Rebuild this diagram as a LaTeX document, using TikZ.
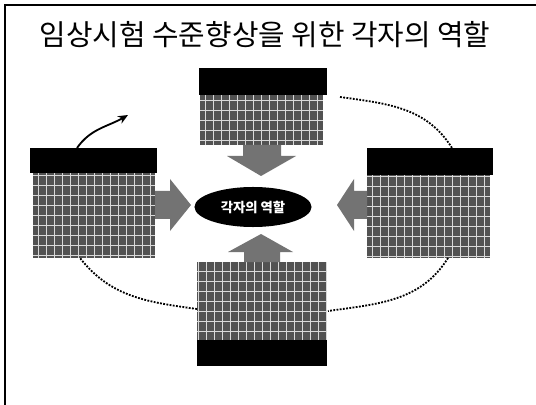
\documentclass[tikz,border=0pt]{standalone}
\usepackage{fontspec}
\newfontfamily\kr{Noto Sans CJK KR}
\usetikzlibrary{arrows.meta,shapes.geometric}

\tikzset{
  head/.style={fill=black, inner sep=0pt},
  body/.style={fill=black!68, inner sep=0pt,
    path picture={\draw[white!85!black, line width=0.6pt]
      (path picture bounding box.south west) grid[xstep=0.2cm, ystep=0.25cm]
      (path picture bounding box.north east);}},
  blockarrow/.style={fill=black!55},
  link/.style={densely dotted, line width=1.3pt},
}

\begin{document}
\begin{tikzpicture}[x=0.025cm, y=-0.025cm]
  \useasboundingbox (0,0) rectangle (536,405);
  % frame
  \draw[line width=1.2pt] (5,405) -- (5,5) -- (536,5);

  \node (title) at (265,35) {\kr\fontsize{20.5}{24}\selectfont 임상시험 수준향상을 위한 각자의 역할};

  % top
  \node[head, minimum width=3.2cm, minimum height=0.675cm] (tophead) at (263,81.5) {};
  \node[body, minimum width=3.075cm, minimum height=1.25cm] (topbody) at (261.5,120) {};
  % left
  \node[head, minimum width=3.175cm, minimum height=0.625cm] (lefthead) at (93.5,160.5) {};
  \node[body, minimum width=3.05cm, minimum height=2.125cm] (leftbody) at (94,215.5) {};
  % right
  \node[head, minimum width=3.15cm, minimum height=0.675cm] (righthead) at (430,161.5) {};
  \node[body, minimum width=3.075cm, minimum height=2.075cm] (rightbody) at (428.5,216.5) {};
  % bottom
  \node[body, minimum width=3.25cm, minimum height=1.95cm] (botbody) at (262,301) {};
  \node[head, minimum width=3.25cm, minimum height=0.65cm] (bothead) at (262,353) {};

  \node[ellipse, fill=black, minimum width=2.925cm, minimum height=1cm, text=white] (role) at (253,207)
    {\kr\bfseries\fontsize{9.5}{11}\selectfont 각자의 역할};

  % block arrows
  \fill[blockarrow] (243,145) -- (281,145) -- (281,156) -- (296,156) -- (261,176) -- (227,156) -- (243,156) -- cycle;
  \fill[blockarrow] (155,191) -- (170,191) -- (170,179) -- (191,205) -- (170,231) -- (170,219) -- (155,219) -- cycle;
  \fill[blockarrow] (367,191) -- (354,191) -- (354,179) -- (337,205) -- (354,231) -- (354,219) -- (367,219) -- cycle;
  \fill[blockarrow] (244,262) -- (280,262) -- (280,252) -- (293,252) -- (261,234) -- (228,252) -- (244,252) -- cycle;

  % cycle
  \coordinate (tr1) at (340,97);
  \coordinate (tr2) at (452,148);
  \coordinate (rb1) at (448,258);
  \coordinate (rb2) at (328,311);
  \coordinate (bl1) at (197,309);
  \coordinate (bl2) at (80,258);
  \coordinate (tl1) at (77,148);
  \coordinate (tl2) at (128,115);
  \draw[link] (tr1) to[out=-8, in=122] (tr2);
  \draw[link] (rb1) to[out=-122, in=8] (rb2);
  \draw[link] (bl1) to[out=172, in=-52] (bl2);
  \draw[line width=1.3pt, -{Stealth[length=7pt, width=6pt]}] (tl1) to[out=55, in=-150] (tl2);
\end{tikzpicture}
\end{document}
